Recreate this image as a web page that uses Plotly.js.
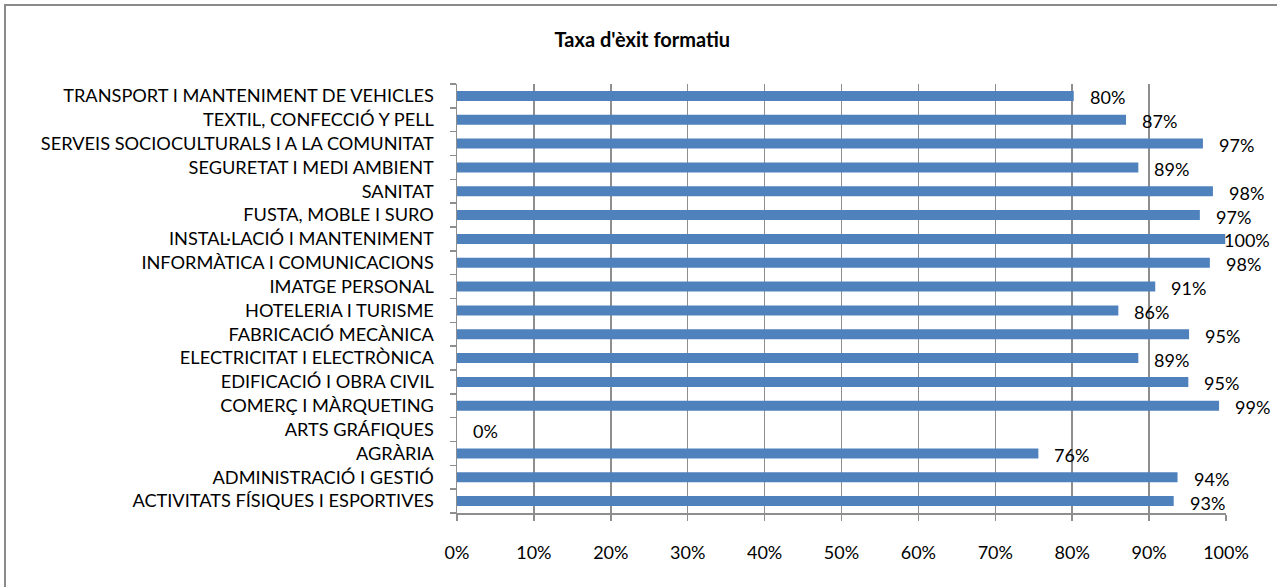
<!DOCTYPE html>
<html>
<head>
<meta charset="utf-8">
<script src="https://cdn.plot.ly/plotly-3.0.1.min.js"></script>
<style>html,body{margin:0;padding:0;background:#fff;}#chart{width:1277px;height:587px;}</style>
</head>
<body>
<div id="chart"></div>
<script>
// Categories listed bottom to top
const categories = [
  "ACTIVITATS FÍSIQUES I ESPORTIVES",
  "ADMINISTRACIÓ I GESTIÓ",
  "AGRÀRIA",
  "ARTS GRÁFIQUES",
  "COMERÇ I MÀRQUETING",
  "EDIFICACIÓ I OBRA CIVIL",
  "ELECTRICITAT I ELECTRÒNICA",
  "FABRICACIÓ MECÀNICA",
  "HOTELERIA I TURISME",
  "IMATGE PERSONAL",
  "INFORMÀTICA I COMUNICACIONS",
  "INSTAL·LACIÓ I MANTENIMENT",
  "FUSTA, MOBLE I SURO",
  "SANITAT",
  "SEGURETAT I MEDI AMBIENT",
  "SERVEIS SOCIOCULTURALS I A LA COMUNITAT",
  "TEXTIL, CONFECCIÓ Y PELL",
  "TRANSPORT I MANTENIMENT DE VEHICLES"
];
const successRate = [93.2, 93.7, 75.6, 0, 99.1, 95.1, 88.6, 95.2, 86.0, 90.8, 97.9, 99.9, 96.6, 98.3, 88.6, 97.0, 87.0, 80.2];
const xTickValues = [0, 10, 20, 30, 40, 50, 60, 70, 80, 90, 100];
const xTickLabels = ["0%", "10%", "20%", "30%", "40%", "50%", "60%", "70%", "80%", "90%", "100%"];
const chartTitle = "Taxa d'èxit formatiu";

const FONT = "Lato, 'Liberation Sans', sans-serif";

const annotations = successRate.map((v, i) => ({
  x: v, y: categories[i], xref: 'x', yref: 'y',
  text: Math.round(v) + '%',
  showarrow: false, xanchor: 'left', yanchor: 'middle',
  xshift: v >= 99.5 ? -3 : 14, yshift: -1.5,
  font: {family: FONT, size: 18, color: '#000'}
}));

const trace = {
  type: 'bar', orientation: 'h',
  x: successRate, y: categories,
  width: 0.42,
  marker: {color: '#4f81bd', line: {width: 0}},
  hoverinfo: 'skip'
};

const layout = {
  width: 1277, height: 587,
  margin: {l: 457, r: 51, t: 84, b: 74, pad: 0},
  paper_bgcolor: '#fff', plot_bgcolor: '#fff',
  showlegend: false,
  title: {text: chartTitle, xref: 'container', yref: 'container', x: 0.503, xanchor: 'center', y: 0.932, yanchor: 'middle',
          font: {family: FONT, size: 20, color: '#000', weight: 'bold'}},
  xaxis: {
    range: [0, 100], tickmode: 'array', tickvals: xTickValues, ticktext: xTickLabels,
    showgrid: true, gridcolor: '#8e8e8e', gridwidth: 1.5,
    zeroline: false, showline: true, linecolor: '#8e8e8e', linewidth: 1.5,
    ticks: 'outside', ticklen: 6, tickcolor: '#8e8e8e', tickwidth: 1.5,
    ticklabelstandoff: 17,
    tickfont: {family: FONT, size: 18, color: '#000'},
    fixedrange: true
  },
  yaxis: {
    type: 'category', categoryorder: 'array', categoryarray: categories,
    range: [-0.5, categories.length - 0.5],
    showgrid: false, zeroline: false,
    showline: true, linecolor: '#8e8e8e', linewidth: 1.5,
    ticks: 'outside', tickson: 'boundaries', ticklen: 6, tickcolor: '#8e8e8e', tickwidth: 1.5,
    ticklabelstandoff: 18,
    tickfont: {family: FONT, size: 18.2, color: '#000'},
    fixedrange: true
  },
  annotations: annotations,
  shapes: [{
    type: 'rect', xref: 'paper', yref: 'paper',
    x0: (5 - 457) / 769, x1: 1.2, y0: -0.3, y1: (513 - 5) / 429,
    line: {color: '#8a8a8a', width: 2}, fillcolor: 'rgba(0,0,0,0)', layer: 'below'
  }]
};

Plotly.newPlot('chart', [trace], layout, {staticPlot: true, displayModeBar: false});
</script>
</body>
</html>
